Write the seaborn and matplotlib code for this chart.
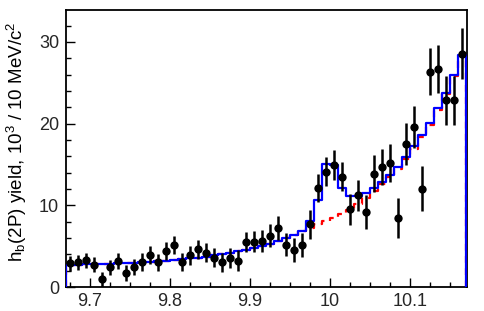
import numpy as np
import matplotlib
matplotlib.use("Agg")
import matplotlib.pyplot as plt
import seaborn as sns
from matplotlib.ticker import MultipleLocator, FormatStrFormatter

# ---- data ----
mass = [9.675, 9.685, 9.695, 9.705, 9.715, 9.725, 9.735, 9.745, 9.755, 9.765,
        9.775, 9.785, 9.795, 9.805, 9.815, 9.825, 9.835, 9.845, 9.855, 9.865,
        9.875, 9.885, 9.895, 9.905, 9.915, 9.925, 9.935, 9.945, 9.955, 9.965,
        9.975, 9.985, 9.995, 10.005, 10.015, 10.025, 10.035, 10.045, 10.055, 10.065,
        10.075, 10.085, 10.095, 10.105, 10.115, 10.125, 10.135, 10.145, 10.155, 10.165]
bin_width = 0.01

yield_vals = [2.9, 3.0, 3.25, 2.75, 0.92, 2.4, 3.2, 1.75, 2.42, 3.05,
              3.92, 3.0, 4.42, 5.15, 3.02, 3.9, 4.6, 4.2, 3.6, 3.02,
              3.52, 3.22, 5.5, 5.55, 5.66, 6.25, 7.2, 5.17, 4.5, 5.15,
              7.65, 12.15, 14.1, 14.9, 13.5, 9.5, 11.25, 9.2, 13.85, 14.65,
              15.15, 8.4, 17.5, 19.6, 12.0, 26.35, 26.7, 22.85, 22.85, 28.55]

yield_err = [0.9, 0.9, 0.95, 0.95, 0.9, 0.95, 1.0, 1.0, 1.0, 1.05,
             1.05, 1.05, 1.1, 1.15, 1.1, 1.15, 1.15, 1.15, 1.2, 1.2,
             1.2, 1.25, 1.2, 1.25, 1.35, 1.4, 1.5, 1.4, 1.5, 1.5,
             1.75, 1.7, 1.75, 1.85, 1.75, 1.9, 1.9, 2.1, 2.25, 2.2,
             2.35, 2.45, 2.55, 2.6, 2.75, 2.85, 2.9, 3.0, 3.0, 3.15]

background = [2.70, 2.73, 2.76, 2.79, 2.82, 2.86, 2.90, 2.94, 2.98, 3.03,
              3.09, 3.16, 3.23, 3.31, 3.40, 3.50, 3.61, 3.73, 3.87, 4.02,
              4.18, 4.35, 4.55, 4.78, 5.03, 5.30, 5.60, 5.95, 6.40, 6.85,
              7.25, 7.65, 8.05, 8.45, 8.90, 9.45, 10.10, 10.85, 11.70, 12.60,
              13.45, 14.45, 15.70, 16.95, 18.35, 19.80, 21.65, 23.60, 25.80, 28.30]

total_fit = background[:30] + [8.08, 10.6, 15.05, 14.9, 12.1, 11.1, 11.1, 11.5, 12.1, 12.9,
                               13.75, 14.73, 15.95, 17.2, 18.6, 20.05, 21.9, 23.8, 25.95, 28.4]

x_ticks = [9.7, 9.8, 9.9, 10.0, 10.1]
y_ticks = [0, 10, 20, 30]

# ---- style ----
sns.set_theme(style="white")
plt.rcParams["font.family"] = ["Liberation Sans", "DejaVu Sans"]
plt.rcParams["mathtext.fontset"] = "custom"
plt.rcParams["mathtext.rm"] = "Liberation Sans"
plt.rcParams["mathtext.it"] = "Liberation Sans:italic"
plt.rcParams["mathtext.bf"] = "Liberation Sans:bold"

fig = plt.figure(figsize=(4.85, 3.11), dpi=100)
ax = fig.add_axes([66 / 485, 1 - 287 / 311, (467 - 66) / 485, (287 - 10) / 311])

centers = np.array(mass)
edges = np.append(centers - bin_width / 2, centers[-1] + bin_width / 2)


def outline(vals):
    xs = np.repeat(edges, 2)
    ys = np.concatenate([[0.0], np.repeat(np.asarray(vals, float), 2), [0.0]])
    return xs, ys


bx, by = outline(background)
sns.lineplot(x=bx, y=by, sort=False, estimator=None, color="#ff0000",
             lw=1.6, linestyle=(0, (3, 2.5)), ax=ax, zorder=2)
tx, ty = outline(total_fit)
sns.lineplot(x=tx, y=ty, sort=False, estimator=None, color="#0000ff",
             lw=1.6, ax=ax, zorder=3)

ax.errorbar(centers, yield_vals, yerr=yield_err, fmt="none", ecolor="black",
            elinewidth=1.8, capsize=0, zorder=4)
sns.scatterplot(x=centers, y=yield_vals, color="black", s=36, linewidth=0,
                ax=ax, zorder=5)

ax.set_xlim(9.67, 10.171)
ax.set_ylim(0, 33.9)

ax.set_xticks(x_ticks)
ax.set_yticks(y_ticks)
ax.xaxis.set_major_formatter(FormatStrFormatter("%g"))
ax.xaxis.set_minor_locator(MultipleLocator(0.025))
ax.yaxis.set_minor_locator(MultipleLocator(2))
ax.tick_params(axis="both", which="both", direction="in", color="black",
               bottom=True, left=True, top=False, right=False)
ax.tick_params(axis="both", which="major", length=6.5, width=1.0, labelsize=13)
ax.tick_params(axis="both", which="minor", length=3.3, width=1.0)
ax.tick_params(axis="x", which="major", pad=4)
ax.tick_params(axis="y", which="major", pad=5)

for sp in ax.spines.values():
    sp.set_color("black")
    sp.set_linewidth(1.3)

ax.set_xlabel("")
ax.set_ylabel(r"h$_{\mathregular{b}}$(2P) yield, 10$^{\mathregular{3}}$ / 10 MeV/c$^{\mathregular{2}}$",
              fontsize=13.5, color="black")
ax.yaxis.set_label_coords(-0.092, 0.525)

fig.savefig("out.png", dpi=100)
